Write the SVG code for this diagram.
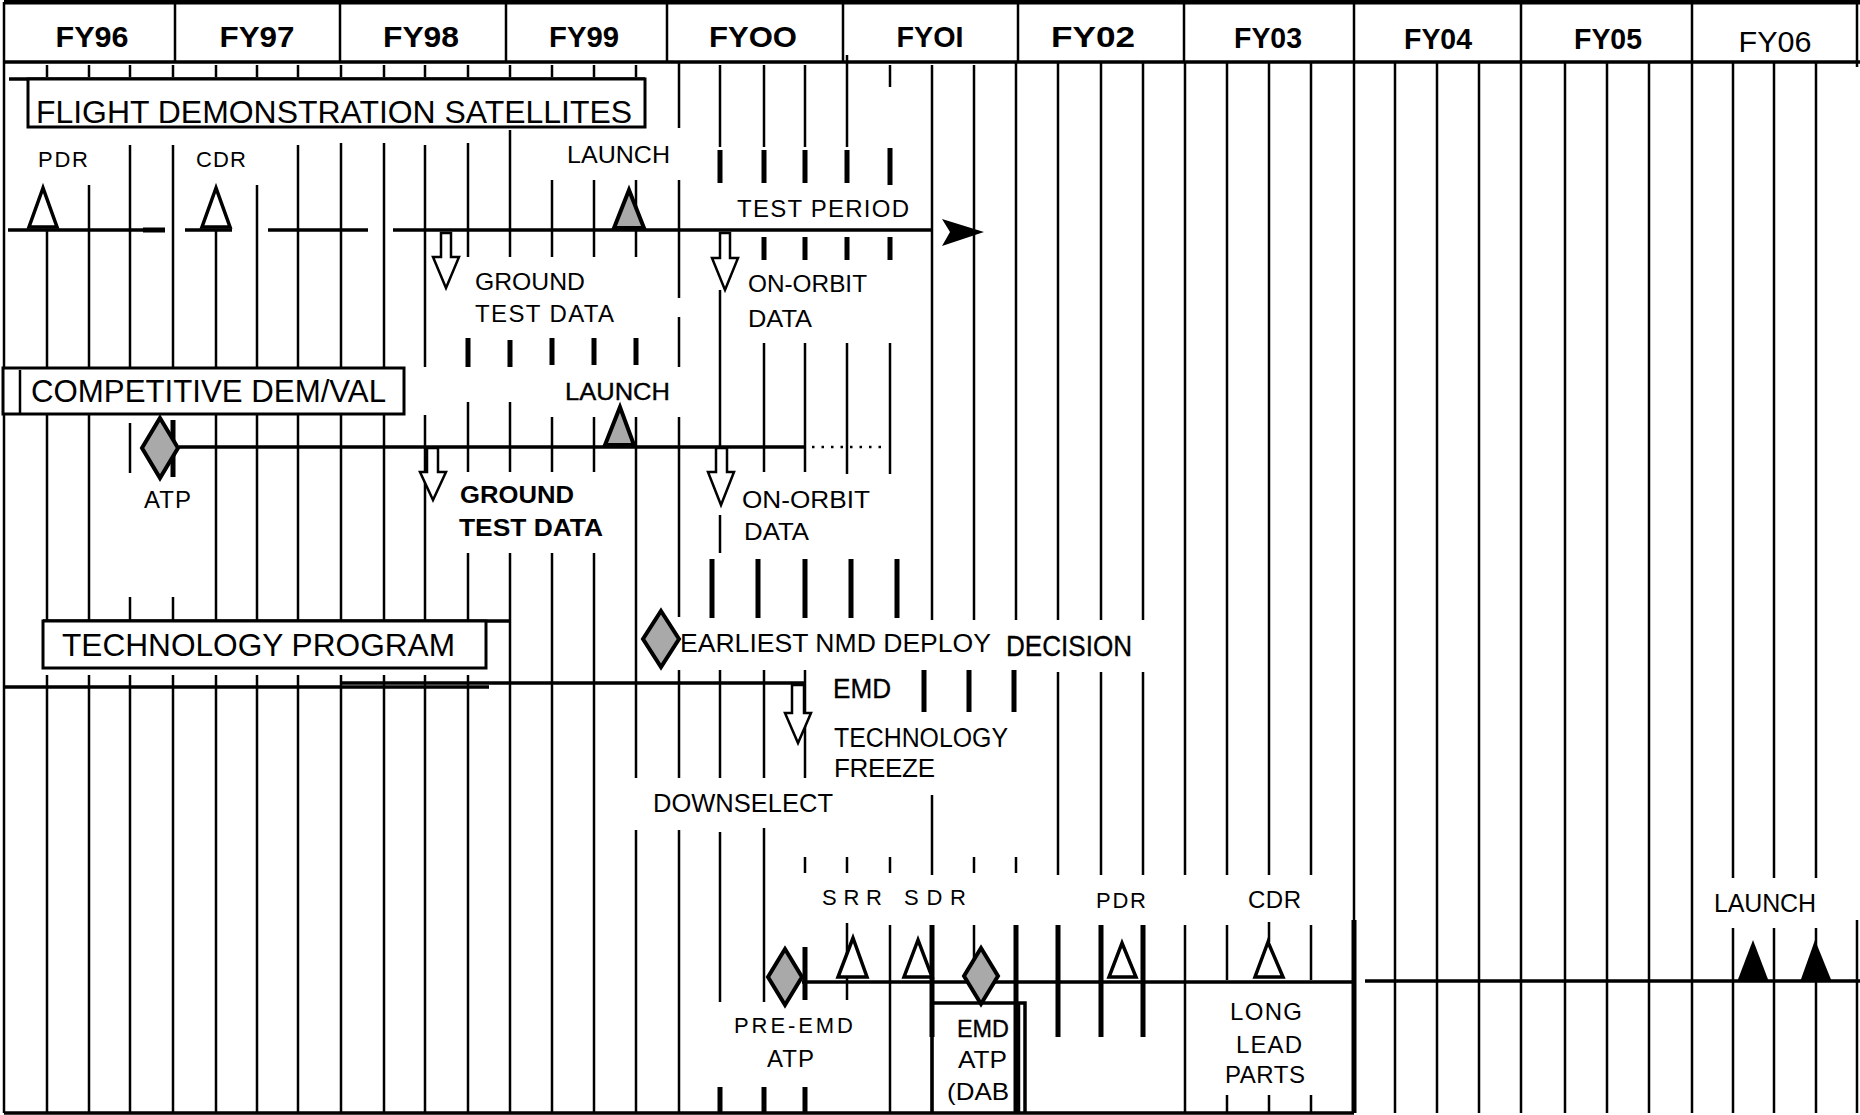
<svg xmlns="http://www.w3.org/2000/svg" width="1860" height="1115" viewBox="0 0 1860 1115">
<style>
text{font-family:"Liberation Sans",Arial,sans-serif;fill:#000}
.hd{font-size:30px;font-weight:bold;text-anchor:middle}
.q{stroke:#000;stroke-width:2.5;fill:none}
.qt{stroke:#000;stroke-width:5;fill:none}
.ln{stroke:#000;stroke-width:3.5;fill:none}
.box{fill:#fff;stroke:#000;stroke-width:3}
.ms{fill:#fff;stroke:#000;stroke-width:3.5}
.gr{fill:#a9a9a9;stroke:#000;stroke-width:4}
.bk{fill:#000;stroke:none}
.ar{fill:#fff;stroke:#000;stroke-width:2.5;stroke-linejoin:miter}
.hv{stroke:#000;stroke-width:0.35}
.t22{font-size:22px}
.t24{font-size:24px}
.t26{font-size:26px}
.t32{font-size:32px}
</style>
<rect width="1860" height="1115" fill="#fff"/>

<g id="header">
<path class="qt" d="M4 2H1860"/>
<path class="ln" d="M4 62H1860"/>
<path class="q" d="M175 2V62M340 2V62M506 2V62M667 2V62M843 2V62M1018 2V62M1184 2V62M1354 2V62M1521 2V62M1692 2V62"/>
<text class="hd" x="92" y="47" textLength="73" lengthAdjust="spacingAndGlyphs">FY96</text>
<text class="hd" x="257" y="47" textLength="75" lengthAdjust="spacingAndGlyphs">FY97</text>
<text class="hd" x="421" y="47" textLength="76" lengthAdjust="spacingAndGlyphs">FY98</text>
<text class="hd" x="584" y="47" textLength="70" lengthAdjust="spacingAndGlyphs">FY99</text>
<text class="hd" x="753" y="47" textLength="88" lengthAdjust="spacingAndGlyphs">FYOO</text>
<text class="hd" x="930" y="47" textLength="67" lengthAdjust="spacingAndGlyphs">FYOI</text>
<text class="hd" x="1093" y="47" textLength="84" lengthAdjust="spacingAndGlyphs">FY02</text>
<text class="hd" x="1268" y="48" textLength="68" lengthAdjust="spacingAndGlyphs">FY03</text>
<text class="hd" x="1438" y="49" textLength="68" lengthAdjust="spacingAndGlyphs">FY04</text>
<text class="hd" x="1608" y="49" textLength="68" lengthAdjust="spacingAndGlyphs">FY05</text>
<text x="1775" y="52" font-size="29" text-anchor="middle" textLength="73" lengthAdjust="spacingAndGlyphs">FY06</text>
</g>

<g id="grid">
<path class="q" d="M4 2V1113M1857 2V67M1857 920V1113
M47 65V77M47 230V367M47 415V620M47 675V1113
M89 65V77M89 185V367M89 415V620M89 675V1113
M130 65V77M130 145V367M130 423V473M130 597V620M130 675V1113
M173 65V77M173 145V367M173 597V620M173 675V1113
M216 65V77M216 230V367M216 415V620M216 675V1113
M257 65V77M257 185V367M257 415V620M257 675V1113
M298 65V77M298 145V367M298 415V620M298 675V1113
M341 65V77M341 143V367M341 415V620M341 675V1113
M384 65V77M384 143V367M384 415V620M384 675V1113
M425 65V77M425 145V367M425 415V620M425 675V1113
M468 65V77M468 143V257M468 402V472M468 553V620M468 675V1113
M510 65V77M510 130V257M510 402V472M510 553V1113
M552 65V77M552 180V257M552 417V472M552 553V1113
M594 65V77M594 180V257M594 417V472M594 553V1113
M636 65V77M636 180V257M636 417V778M636 830V1113
M679 62V128M679 180V298M679 317V367M679 417V617M679 670V778M679 830V1113
M720 65V147M720 290V448M720 515V553M720 670V778M720 832V1002
M764 65V147M764 343V472M764 670V778M764 828V1002
M805 65V147M805 343V472M805 670V778M805 857V873
M847 55V147M847 343V474M847 857V873M847 923V1000
M890 65V87M890 343V474M890 857V873M890 925V1113
M932 65V620M932 795V875M932 925V1113
M974 65V620M974 857V873M974 925V985
M1016 62V620M1016 857V873
M1058 62V620M1058 672V875M1058 925V1037
M1101 62V620M1101 672V875M1101 925V1037
M1143 62V620M1143 672V875M1143 925V1037
M1185 62V875M1185 925V1113
M1227 62V875M1227 925V980M1227 1095V1113
M1269 62V875M1269 922V942M1269 1095V1113
M1311 62V875M1311 925V980M1311 1095V1113
M1354 62V1113M1395 62V1113M1437 62V1113M1479 62V1113M1521 62V1113
M1565 62V1113M1607 62V1113M1649 62V1113M1692 62V1113
M1733 62V878M1733 928V1113M1774 62V878M1774 928V1113M1816 62V878M1816 928V1113"/>
<path class="qt" d="M173 420V477
M720 150V183M764 150V183M805 150V183M847 150V183M890 148V185
M764 237V260M805 237V260M847 237V260M890 237V260
M468 338V367M510 340V367M552 338V365M594 338V365M636 338V365
M712 559V618M758 559V618M805 559V618M851 559V618M897 559V618
M924 670V712M969 670V712M1014 670V712
M805 947V1000M1016 925V1113M932 925V1037M1058 925V1037M1101 925V1037M1143 925V1037
M720 1087V1113M764 1087V1113M805 1087V1113
M1354 920V1113"/>
</g>

<g id="connectors">
<path class="ln" d="M8 230H143M185 230H232M268 230H368M393 230H415M415 230H933"/>
<path class="qt" d="M143 230H165"/>
<polygon class="bk" points="942,219 984,232 942,246 950,232"/>
<path class="ln" d="M179 447H805"/>
<path class="q" d="M812 447H881" stroke-dasharray="2.5 7"/>
<path class="ln" d="M5 687H489M341 683H805"/>
<path class="ln" d="M802 982H1354M1365 981H1860"/>
<path class="ln" d="M4 1113H1354"/>
</g>

<g id="node-fds">
<path class="ln" d="M9 79H645"/>
<rect class="box" x="28" y="79" width="617" height="48"/>
<text class="t32" x="36" y="123" textLength="596" lengthAdjust="spacingAndGlyphs">FLIGHT DEMONSTRATION SATELLITES</text>
</g>
<g id="node-fds-pdr">
<text class="t22" x="38" y="167" textLength="50" lengthAdjust="spacing">PDR</text>
<polygon class="ms" points="43,188 29,227 57,227"/>
</g>
<g id="node-fds-cdr">
<text class="t22" x="196" y="167" textLength="50" lengthAdjust="spacing">CDR</text>
<polygon class="ms" points="216,188 202,227 230,227"/>
</g>
<g id="node-fds-launch">
<text class="t24" x="567" y="163" textLength="103" lengthAdjust="spacingAndGlyphs">LAUNCH</text>
<polygon class="gr" points="629,190 614,228 644,228"/>
</g>
<g id="node-fds-test">
<text class="t24" x="737" y="217" textLength="172" lengthAdjust="spacing">TEST  PERIOD</text>
</g>
<g id="node-fds-ground">
<polygon class="ar" points="441,233 451,233 451,257 459,257 446,288 433,257 441,257"/>
<text class="t24" x="475" y="290" textLength="110" lengthAdjust="spacingAndGlyphs">GROUND</text>
<text class="t24" x="475" y="322" textLength="139" lengthAdjust="spacing">TEST  DATA</text>
</g>
<g id="node-fds-orbit">
<polygon class="ar" points="720,233 730,233 730,258 738,258 725,290 712,258 720,258"/>
<text class="t24" x="748" y="292" textLength="119" lengthAdjust="spacingAndGlyphs">ON-ORBIT</text>
<text class="t24" x="748" y="327" textLength="64" lengthAdjust="spacingAndGlyphs">DATA</text>
</g>

<g id="node-dv">
<rect class="box" x="3" y="368" width="401" height="46"/>
<path class="q" d="M20 370V414"/>
<text class="t32" x="31" y="402" textLength="355" lengthAdjust="spacingAndGlyphs">COMPETITIVE DEM/VAL</text>
</g>
<g id="node-dv-atp">
<polygon class="gr" points="160,418 178,448 160,478 142,448"/>
<text class="t24" x="144" y="508" textLength="47" lengthAdjust="spacing">ATP</text>
</g>
<g id="node-dv-launch">
<text class="t24 hv" x="565" y="400" textLength="105" lengthAdjust="spacingAndGlyphs">LAUNCH</text>
<polygon class="gr" points="620,407 605,445 634,445"/>
</g>
<g id="node-dv-ground">
<polygon class="ar" points="427,448 438,448 438,472 446,472 433,500 420,472 427,472"/>
<text class="t24" x="460" y="503" font-weight="bold" textLength="114" lengthAdjust="spacingAndGlyphs">GROUND</text>
<text class="t24" x="459" y="536" font-weight="bold" textLength="144" lengthAdjust="spacingAndGlyphs">TEST DATA</text>
</g>
<g id="node-dv-orbit">
<polygon class="ar" points="716,448 727,448 727,472 734,472 721,505 708,472 716,472"/>
<text class="t24" x="742" y="508" textLength="128" lengthAdjust="spacingAndGlyphs">ON-ORBIT</text>
<text class="t24" x="744" y="540" textLength="65" lengthAdjust="spacingAndGlyphs">DATA</text>
</g>

<g id="node-tech">
<path class="ln" d="M43 621H510"/>
<rect class="box" x="43" y="621" width="443" height="47"/>
<text class="t32" x="62" y="656" textLength="393" lengthAdjust="spacingAndGlyphs">TECHNOLOGY PROGRAM</text>
</g>
<g id="node-decision">
<polygon class="gr" points="661,611 679,639 661,667 643,639"/>
<text class="t26" x="680" y="652" textLength="311" lengthAdjust="spacingAndGlyphs">EARLIEST NMD DEPLOY</text>
<text class="hv" x="1006" y="656" font-size="30" textLength="126" lengthAdjust="spacingAndGlyphs">DECISION</text>
</g>
<g id="node-emd">
<text class="hv" x="833" y="698" font-size="27" textLength="58" lengthAdjust="spacingAndGlyphs">EMD</text>
</g>
<g id="node-freeze">
<text x="834" y="747" font-size="27" textLength="174" lengthAdjust="spacingAndGlyphs">TECHNOLOGY</text>
<text class="t26" x="834" y="777" textLength="101" lengthAdjust="spacing">FREEZE</text>
</g>
<g id="node-downselect">
<polygon class="ar" points="792,685 804,685 804,713 811,713 798,743 785,713 792,713"/>
<text class="t26" x="653" y="812" textLength="180" lengthAdjust="spacingAndGlyphs">DOWNSELECT</text>
</g>

<g id="node-preemd">
<polygon class="gr" points="785,949 802,977 785,1005 768,977"/>
<text class="t22" x="734" y="1033" textLength="119" lengthAdjust="spacing">PRE-EMD</text>
<text class="t24" x="767" y="1067" textLength="47" lengthAdjust="spacing">ATP</text>
</g>
<g id="node-srr">
<text class="t22" x="822" y="905" textLength="60" lengthAdjust="spacing">SRR</text>
<polygon class="ms" points="853,938 838,977 867,977"/>
</g>
<g id="node-sdr">
<text class="t22" x="904" y="905" textLength="62" lengthAdjust="spacing">SDR</text>
<polygon class="ms" points="918,940 904,977 932,977"/>
</g>
<g id="node-emdatp">
<path class="ln" d="M932 983V1113M932 1003H1025V1113"/>
<path class="q" d="M1019 1003V1113"/>
<polygon class="gr" points="981,948 998,976 981,1004 964,976"/>
<text class="t24 hv" x="957" y="1037" textLength="52" lengthAdjust="spacingAndGlyphs">EMD</text>
<text class="t24" x="958" y="1068" textLength="49" lengthAdjust="spacingAndGlyphs">ATP</text>
<text class="t24" x="947" y="1100" textLength="62" lengthAdjust="spacingAndGlyphs">(DAB</text>
</g>
<g id="node-pdr">
<text class="t22" x="1096" y="908" textLength="50" lengthAdjust="spacing">PDR</text>
<polygon class="ms" points="1122,943 1109,977 1136,977"/>
</g>
<g id="node-cdr">
<text class="t24" x="1248" y="908" textLength="53" lengthAdjust="spacing">CDR</text>
<polygon class="ms" points="1268,942 1255,977 1283,977"/>
</g>
<g id="node-lll">
<text class="t24" x="1230" y="1020" textLength="72" lengthAdjust="spacing">LONG</text>
<text class="t24" x="1236" y="1053" textLength="66" lengthAdjust="spacing">LEAD</text>
<text class="t24" x="1225" y="1083" textLength="80" lengthAdjust="spacing">PARTS</text>
</g>
<g id="node-launch">
<text x="1714" y="912" font-size="25" textLength="102" lengthAdjust="spacing">LAUNCH</text>
<polygon class="bk" points="1753,940 1737,982 1769,982"/>
<polygon class="bk" points="1815,940 1800,982 1832,982"/>
</g>
</svg>
